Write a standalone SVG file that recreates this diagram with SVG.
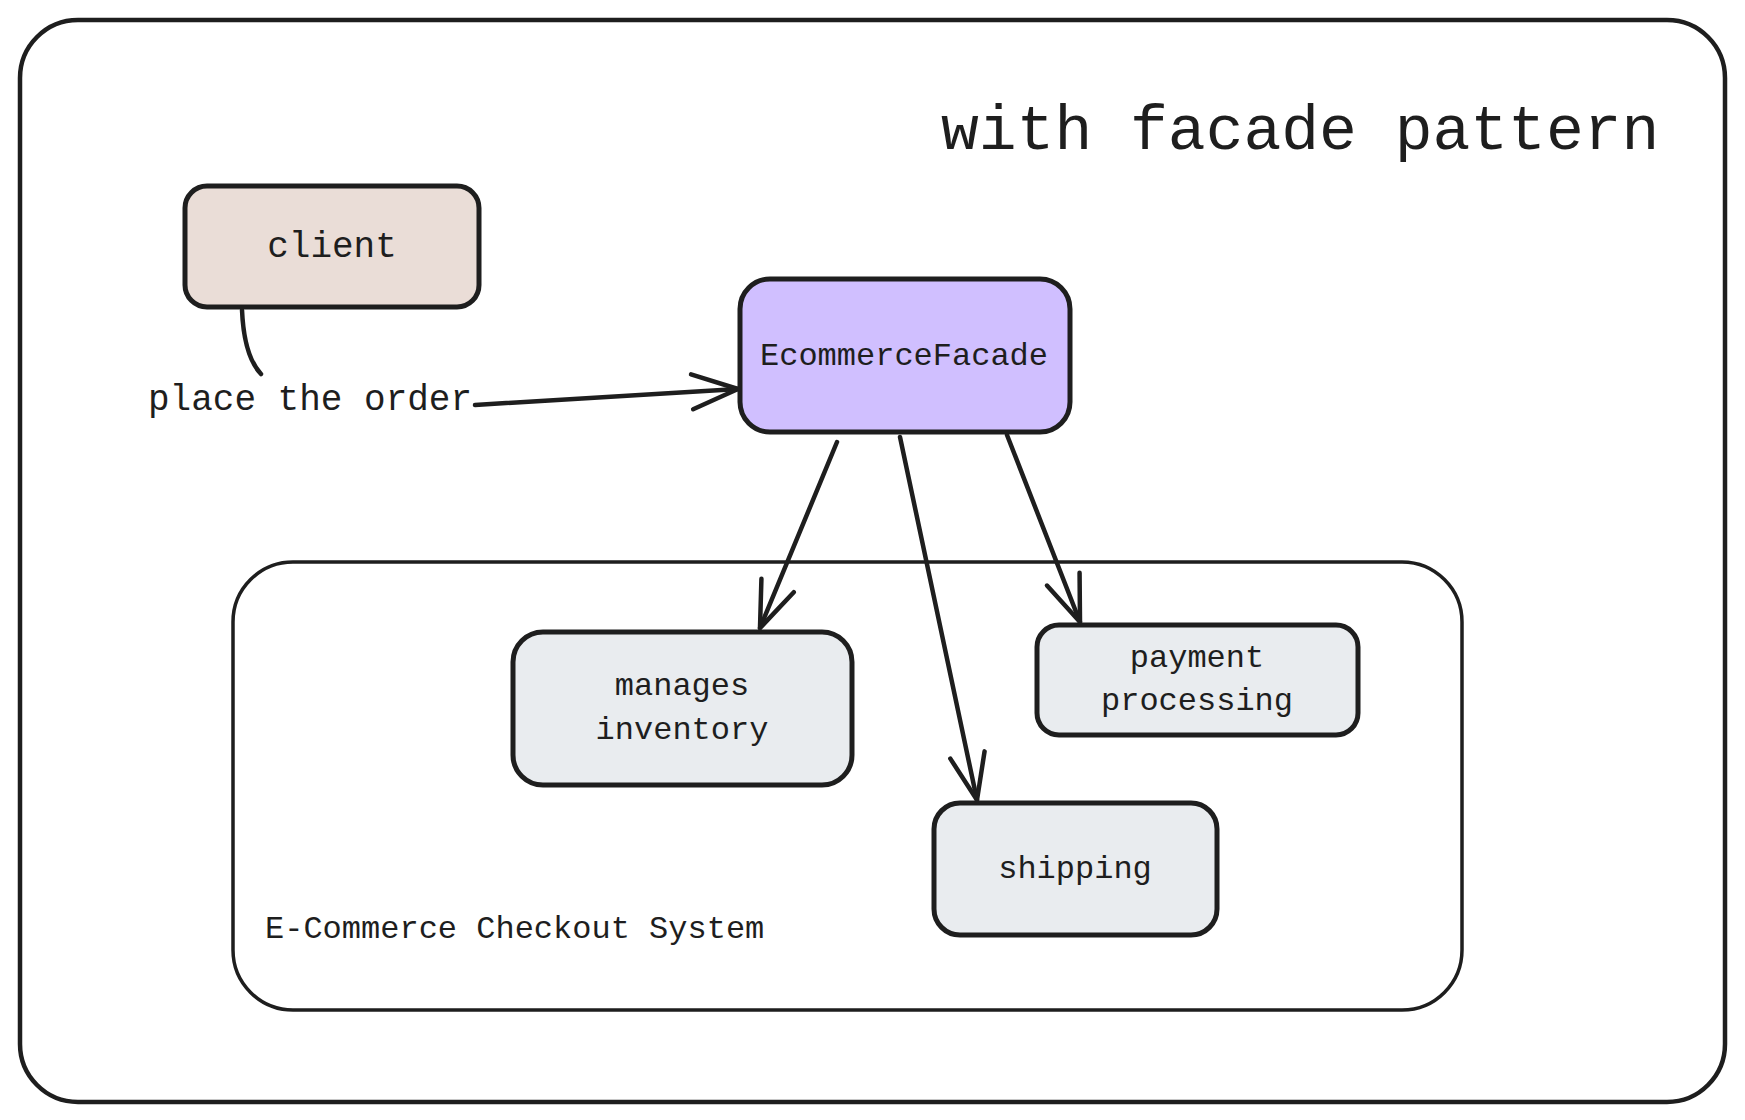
<svg xmlns="http://www.w3.org/2000/svg" width="1745" height="1120" viewBox="0 0 1745 1120">
  <style>
    .frame { fill: #ffffff; stroke: #1e1e1e; stroke-width: 4.5; }
    .group { fill: none; stroke: #1e1e1e; stroke-width: 3.5; }
    .node { stroke: #1e1e1e; stroke-width: 5; }
    .client { fill: #eaddd7; }
    .facade { fill: #d0bfff; }
    .sub { fill: #e9ecef; }
    .txt { font-family: "Liberation Mono", "DejaVu Sans Mono", monospace; fill: #1e1e1e; }
    .lbl { font-size: 32px; text-anchor: middle; }
    .big { font-size: 36px; }
    .edge { fill: none; stroke: #1e1e1e; stroke-width: 4.5; stroke-linecap: round; stroke-linejoin: round; }
  </style>
  <defs>
    <marker id="arrow" markerUnits="userSpaceOnUse" markerWidth="60" markerHeight="60" refX="0" refY="0" orient="auto" overflow="visible">
      <path d="M-46,-17.5 L0,0 L-46,17.5" fill="none" stroke="#1e1e1e" stroke-width="4.5" stroke-linecap="round" stroke-linejoin="round"/>
    </marker>
  </defs>

  <g id="frame">
    <rect class="frame" x="20" y="20" width="1705" height="1082" rx="58"/>
    <text class="txt" x="941" y="149" font-size="63">with facade pattern</text>
  </g>

  <g id="checkout-system">
    <rect class="group" x="233" y="562" width="1229" height="448" rx="60"/>
    <text class="txt" x="265" y="938" font-size="32">E-Commerce Checkout System</text>
  </g>

  <g id="connectors">
    <path class="edge" d="M242,310 Q244,356 261,374"/>
    <text class="txt big" x="148" y="410">place the order</text>
    <path class="edge" d="M475,405 L738,389" stroke-width="6" marker-end="url(#arrow)"/>
    <path class="edge" d="M837,442 L760,628" stroke-width="4" marker-end="url(#arrow)"/>
    <path class="edge" d="M900,437 L977,800" stroke-width="5" marker-end="url(#arrow)"/>
    <path class="edge" d="M1007,435 L1080,622" stroke-width="5" marker-end="url(#arrow)"/>
  </g>

  <g id="client">
    <rect class="node client" x="185" y="186" width="294" height="121" rx="22"/>
    <text class="txt big" x="332" y="257" text-anchor="middle">client</text>
  </g>

  <g id="ecommerce-facade">
    <rect class="node facade" x="740" y="279" width="330" height="153" rx="30"/>
    <text class="txt lbl" x="904" y="365">EcommerceFacade</text>
  </g>

  <g id="manages-inventory">
    <rect class="node sub" x="513" y="632" width="339" height="153" rx="30"/>
    <text class="txt lbl" x="682" y="695">manages</text>
    <text class="txt lbl" x="682" y="739">inventory</text>
  </g>

  <g id="payment-processing">
    <rect class="node sub" x="1037" y="625" width="321" height="110" rx="22"/>
    <text class="txt lbl" x="1197" y="667">payment</text>
    <text class="txt lbl" x="1197" y="710">processing</text>
  </g>

  <g id="shipping">
    <rect class="node sub" x="934" y="803" width="283" height="132" rx="26"/>
    <text class="txt lbl" x="1075" y="878">shipping</text>
  </g>
</svg>
